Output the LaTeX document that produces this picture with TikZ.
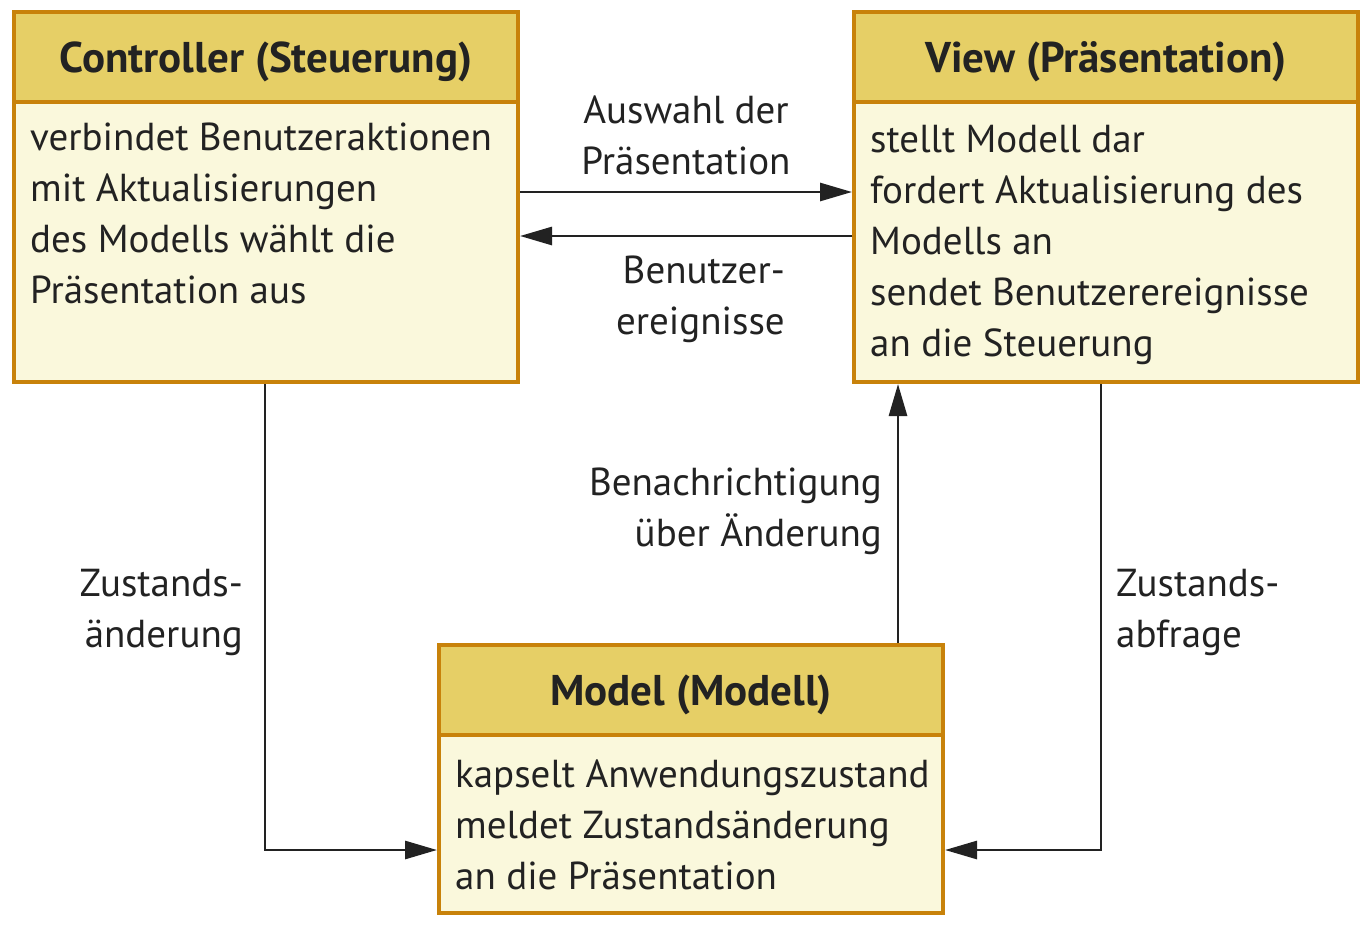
\documentclass[tikz,border=0pt]{standalone}
\usepackage{fontspec}
\setmainfont{PT Sans}
\usetikzlibrary{arrows.meta,calc}
\definecolor{frame}{HTML}{C8820A}
\definecolor{head}{HTML}{E6CF66}
\definecolor{body}{HTML}{FAF8DC}
\definecolor{ink}{HTML}{222222}
\tikzset{
  boxbody/.style={draw=frame,line width=4pt,fill=body,inner sep=0pt,minimum width=504pt},
  boxhead/.style={draw=frame,line width=4pt,fill=head,inner sep=0pt,minimum width=504pt,minimum height=90pt,
     text height=30pt,text depth=0pt,
     font=\bfseries\fontsize{43}{51}\selectfont,text=ink},
  bodytext/.style={anchor=base west,align=left,inner sep=0pt,font=\fontsize{39}{51}\selectfont,text=ink},
  lab/.style={anchor=base,inner sep=0pt,font=\fontsize{39}{51}\selectfont,text=ink},
  arr/.style={draw=ink,line width=2.8pt,-{Triangle[length=32pt,width=18pt]}},
}
\begin{document}
\begin{tikzpicture}[x=1pt,y=-1pt]
\useasboundingbox[fill=white] (0,0) rectangle (1370,924);
% boxes
\node[boxbody,minimum height=370pt] (ctrl) at (266,197) {};
\node[boxhead] (ctrlh) at (266,57) {Controller (Steuerung)};
\node[boxbody,minimum height=370pt] (view) at (1106,197) {};
\node[boxhead] (viewh) at (1106,57) {View (Präsentation)};
\node[boxbody,minimum height=268pt] (model) at (691,779) {};
\node[boxhead] (modelh) at (691,690) {Model (Modell)};
% body texts (base = baseline of last line)
\node[bodytext] (ctrlt) at (30,303) {verbindet Benutzeraktionen\\mit Aktualisierungen\\des Modells wählt die\\Präsentation aus};
\node[bodytext] (viewt) at (870,356) {stellt Modell dar\\fordert Aktualisierung des\\Modells an\\sendet Benutzerereignisse\\an die Steuerung};
\node[bodytext] (modelt) at (455,889) {kapselt Anwendungszustand\\meldet Zustandsänderung\\an die Präsentation};
% connectors
\coordinate (c1) at (265,850);
\coordinate (v1) at (1101,850);
\draw[arr] ([yshift=5pt]ctrl.east) -- ([yshift=5pt]view.west);
\draw[arr] ([yshift=-39pt]view.west) -- ([yshift=-39pt]ctrl.east);
\draw[arr] (ctrl.south -| c1) -- (c1) -- (c1 -| model.west);
\draw[arr] (view.south -| v1) -- (v1) -- (v1 -| model.east);
\draw[arr] (model.north -| 898,0) -- (view.south -| 898,0);
% labels
\node[lab,align=center] (l1) at (686,174) {Auswahl der\\Präsentation};
\node[lab,align=right,anchor=base east] (l2) at (785,334) {Benutzer-\\ereignisse};
\node[lab,align=right,anchor=base east] (l3) at (882,546) {Benachrichtigung\\über Änderung};
\node[lab,align=right,anchor=base east] (l4) at (243,647) {Zustands-\\änderung};
\node[lab,align=left,anchor=base west] (l5) at (1116,647) {Zustands-\\abfrage};
\end{tikzpicture}
\end{document}
